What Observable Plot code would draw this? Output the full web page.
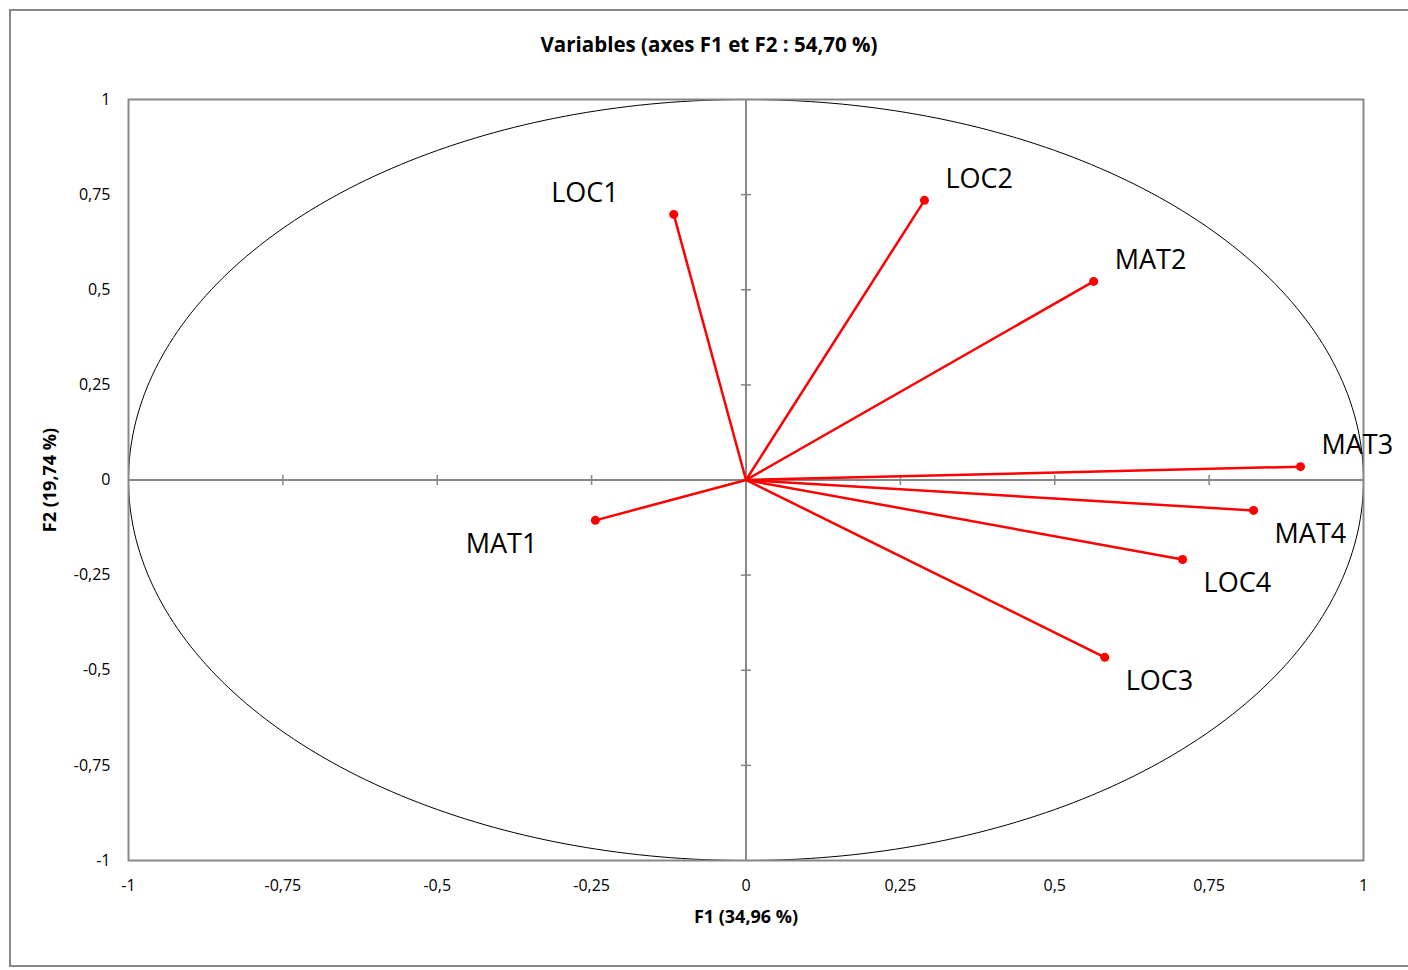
<!DOCTYPE html>
<html>
<head>
<meta charset="utf-8">
<script src="https://cdn.jsdelivr.net/npm/d3@7"></script>
<script src="https://cdn.jsdelivr.net/npm/@observablehq/plot@0.6"></script>
<style>
  html, body { margin: 0; padding: 0; background: #fff; overflow: hidden; width: 1408px; height: 970px; }
  body { position: relative; font-family: "Open Sans", Lato, sans-serif; }
  #border { position: absolute; left: 9px; top: 9px; width: 1420px; height: 958px; border: 2px solid #878787; box-sizing: border-box; }
  #title { position: absolute; left: 9px; width: 1400px; top: 32px; height: 24px; line-height: 24px; text-align: center; font-weight: bold; font-size: 20.5px; color: #000; }
  #chart { position: absolute; left: 0; top: 70px; }
</style>
</head>
<body>
<div id="border"></div>
<div id="title">Variables (axes F1 et F2 : 54,70 %)</div>
<div id="chart"></div>
<script>
// Data
const variables = ["LOC1", "LOC2", "LOC3", "LOC4", "MAT1", "MAT2", "MAT3", "MAT4"];
const f1 = [-0.117, 0.289, 0.581, 0.707, -0.244, 0.563, 0.898, 0.822];
const f2 = [0.698, 0.735, -0.466, -0.209, -0.106, 0.522, 0.035, -0.080];
const tickValues = [-1, -0.75, -0.5, -0.25, 0, 0.25, 0.5, 0.75, 1];
const innerTicks = [-0.75, -0.5, -0.25, 0.25, 0.5, 0.75];
const xLabel = "F1 (34,96 %)";
const yLabel = "F2 (19,74 %)";

const rows = variables.map((name, i) => ({name, f1: f1[i], f2: f2[i]}));
// unit correlation circle (geometry, not data)
const circle = d3.range(0, 361, 1).map(a => ({x: Math.cos(a * Math.PI / 180), y: Math.sin(a * Math.PI / 180)}));

const fmt = d => String(d).replace(".", ",");
const vSym = {draw(ctx) { ctx.moveTo(0, -5); ctx.lineTo(0, 5); }};
const hSym = {draw(ctx) { ctx.moveTo(-5, 0); ctx.lineTo(5, 0); }};
const gray = "#878787";
const font = "'Open Sans', Lato, sans-serif";

const ur = rows.filter(d => d.f1 >= 0 && d.f2 >= 0);
const lr = rows.filter(d => d.f1 >= 0 && d.f2 < 0);
const ul = rows.filter(d => d.f1 < 0 && d.f2 >= 0);
const ll = rows.filter(d => d.f1 < 0 && d.f2 < 0);
const labelOpts = {x: "f1", y: "f2", text: "name", fontSize: 27, fill: "#000"};

const chart = Plot.plot({
  width: 1408,
  height: 900,
  marginTop: 29,
  marginBottom: 110,
  marginLeft: 128,
  marginRight: 45,
  style: {fontFamily: font, fontSize: "16px", color: "#000", background: "transparent"},
  x: {domain: [-1, 1]},
  y: {domain: [-1, 1]},
  marks: [
    Plot.line(circle, {x: "x", y: "y", stroke: "#000", strokeWidth: 1, curve: "linear"}),
    Plot.ruleY([0], {stroke: gray, strokeWidth: 2}),
    Plot.ruleX([0], {stroke: gray, strokeWidth: 2}),
    Plot.dot(innerTicks, {x: d => d, y: d => 0, symbol: vSym, stroke: gray, strokeWidth: 1.5, r: 5}),
    Plot.dot(innerTicks, {x: d => 0, y: d => d, symbol: hSym, stroke: gray, strokeWidth: 1.5, r: 5}),
    Plot.frame({stroke: gray, strokeWidth: 2}),
    Plot.axisX({ticks: tickValues, tickFormat: fmt, tickSize: 0, tickPadding: 19, label: null, fontSize: 16, fill: "#000"}),
    Plot.axisY({ticks: tickValues, tickFormat: fmt, tickSize: 0, tickPadding: 18, label: null, fontSize: 16, fill: "#000"}),
    Plot.link(rows, {x1: d => 0, y1: d => 0, x2: "f1", y2: "f2", stroke: "#ff0000", strokeWidth: 2.5}),
    Plot.dot(rows, {x: "f1", y: "f2", fill: "#ff0000", r: 4.5}),
    Plot.text(ur, {...labelOpts, textAnchor: "start", dx: 21, dy: -21}),
    Plot.text(lr, {...labelOpts, textAnchor: "start", dx: 21, dy: 24}),
    Plot.text(ul, {...labelOpts, textAnchor: "end", dx: -55, dy: -21}),
    Plot.text(ll, {...labelOpts, textAnchor: "end", dx: -58, dy: 24}),
    Plot.text([xLabel], {frameAnchor: "bottom", lineAnchor: "middle", dy: 57, fontWeight: "bold", fontSize: 18, fill: "#000"}),
    Plot.text([yLabel], {frameAnchor: "left", textAnchor: "middle", lineAnchor: "middle", dx: -78, rotate: -90, fontWeight: "bold", fontSize: 18, fill: "#000"})
  ]
});
document.getElementById("chart").appendChild(chart);
</script>
</body>
</html>
